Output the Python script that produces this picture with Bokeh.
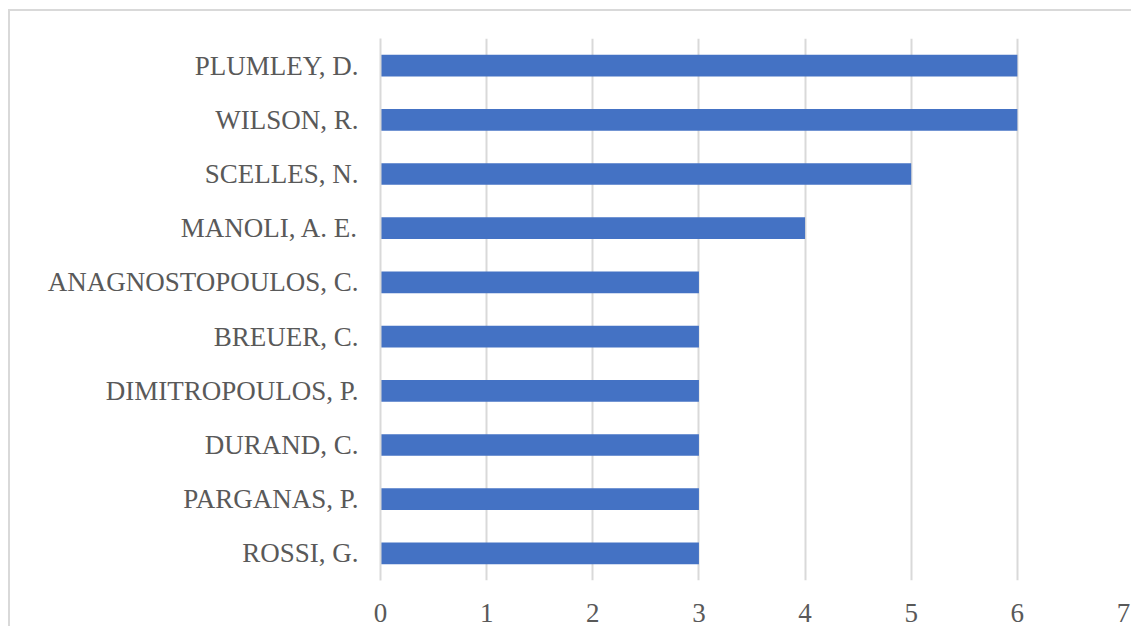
from bokeh.plotting import figure
from bokeh.models import FactorRange, Range1d, FixedTicker
from bokeh.embed import file_html
from bokeh.resources import INLINE

authors = ["PLUMLEY, D.", "WILSON, R.", "SCELLES, N.", "MANOLI, A. E.",
           "ANAGNOSTOPOULOS, C.", "BREUER, C.", "DIMITROPOULOS, P.",
           "DURAND, C.", "PARGANAS, P.", "ROSSI, G."]
counts = [6, 6, 5, 4, 3, 3, 3, 3, 3, 3]
x_ticks = [0, 1, 2, 3, 4, 5, 6, 7]

FONT = "Liberation Serif"
GRID = "#d9d9d9"
TXT = "#595959"

p = figure(width=1123, height=617, output_backend="svg", toolbar_location=None,
           y_range=FactorRange(*list(reversed(authors)), range_padding=0),
           x_range=Range1d(0, 7),
           min_border_left=370, min_border_right=10, min_border_top=27,
           min_border_bottom=48)
p.styles = {"border-left": "2px solid #d9d9d9", "border-top": "2px solid #d9d9d9",
            "margin-left": "8px", "margin-top": "9px"}

p.hbar(y=authors, right=counts, left=0, height=0.4, color="#4472C4", line_color=None)

p.outline_line_color = None
p.background_fill_color = "white"
p.border_fill_color = "white"

p.xaxis.ticker = FixedTicker(ticks=x_ticks)
p.xaxis.axis_line_color = None
p.xaxis.major_tick_line_color = None
p.xaxis.minor_tick_line_color = None
p.xaxis.major_label_text_font = FONT
p.xaxis.major_label_text_font_size = "27px"
p.xaxis.major_label_text_color = TXT
p.xaxis.major_label_standoff = 17

p.yaxis.axis_line_color = GRID
p.yaxis.axis_line_width = 2
p.yaxis.major_tick_line_color = None
p.yaxis.minor_tick_line_color = None
p.yaxis.major_label_text_font = FONT
p.yaxis.major_label_text_font_size = "27px"
p.yaxis.major_label_text_color = TXT
p.yaxis.major_label_standoff = 16

p.xgrid.grid_line_color = GRID
p.xgrid.grid_line_width = 2
p.ygrid.grid_line_color = None

open("out.html", "w").write(file_html(p, INLINE))
